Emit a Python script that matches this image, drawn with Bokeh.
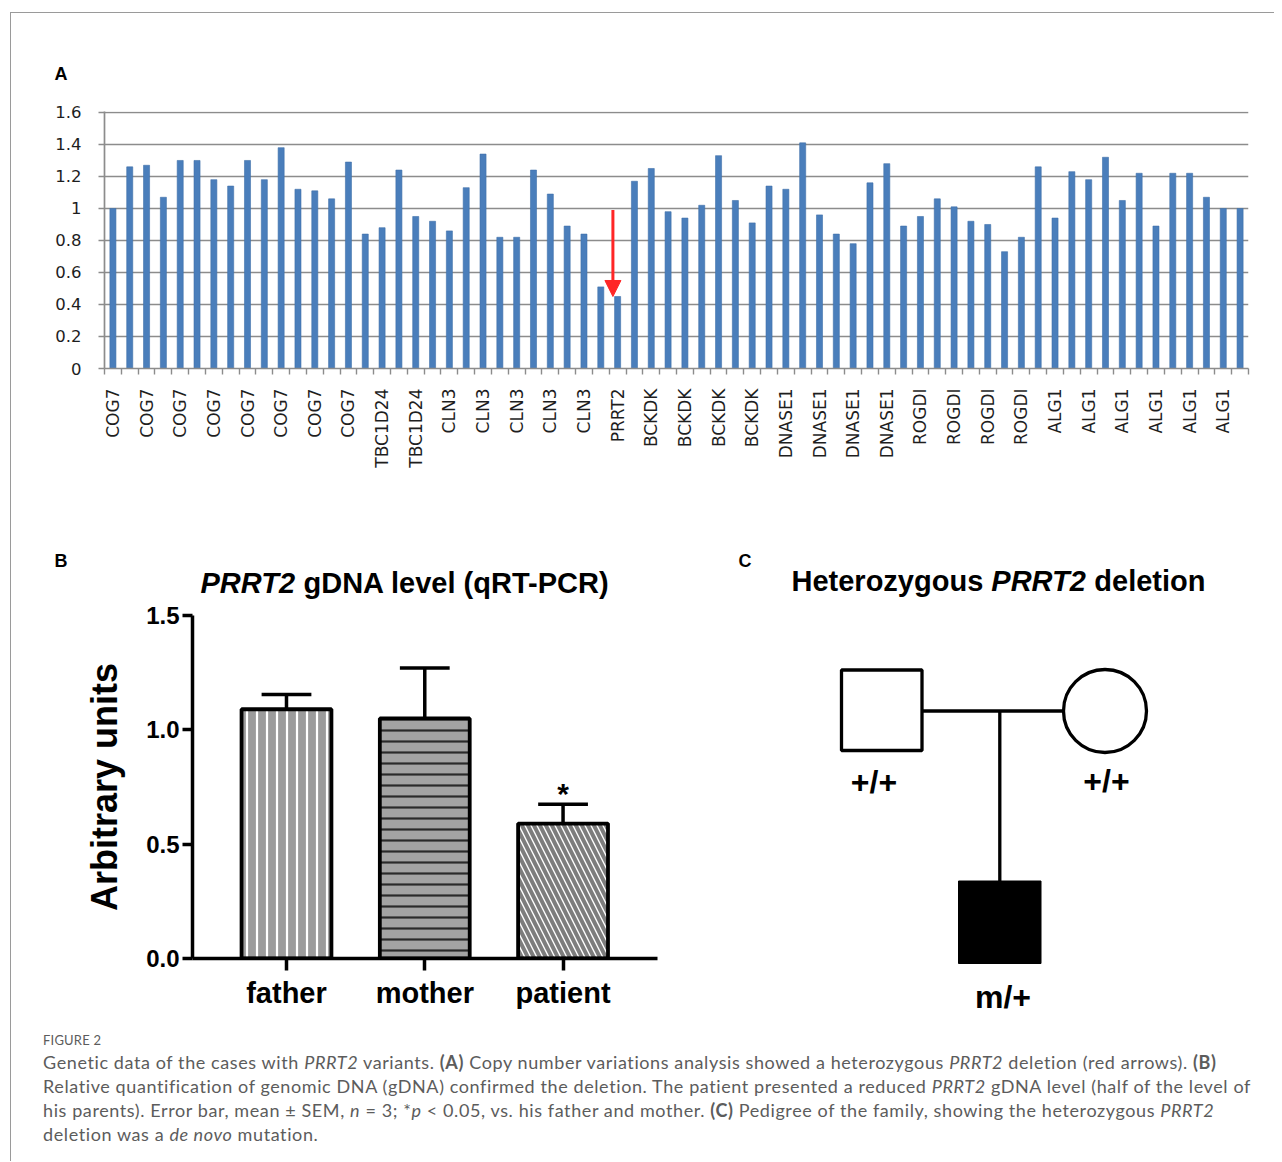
import math
from bokeh.plotting import figure
from bokeh.models import (Range1d, FixedTicker, Arrow, NormalHead, Div,
                          PrintfTickFormatter)
from bokeh.layouts import column, row
from bokeh.core.properties import value
from bokeh.embed import file_html
from bokeh.resources import INLINE

# ---------------- data: panel A (copy number ratios) ----------------
cnv_values = [1.00, 1.26, 1.27, 1.07, 1.30, 1.30, 1.18, 1.14, 1.30, 1.18,
              1.38, 1.12, 1.11, 1.06, 1.29, 0.84, 0.88, 1.24, 0.95, 0.92,
              0.86, 1.13, 1.34, 0.82, 0.82, 1.24, 1.09, 0.89, 0.84, 0.51,
              0.45, 1.17, 1.25, 0.98, 0.94, 1.02, 1.33, 1.05, 0.91, 1.14,
              1.12, 1.41, 0.96, 0.84, 0.78, 1.16, 1.28, 0.89, 0.95, 1.06,
              1.01, 0.92, 0.90, 0.73, 0.82, 1.26, 0.94, 1.23, 1.18, 1.32,
              1.05, 1.22, 0.89, 1.22, 1.22, 1.07, 1.00, 1.00]
cnv_tick_labels = (["COG7"] * 8 + ["TBC1D24"] * 2 + ["CLN3"] * 5 + ["PRRT2"] +
                   ["BCKDK"] * 4 + ["DNASE1"] * 4 + ["ROGDI"] * 4 + ["ALG1"] * 6)
cnv_y_ticks = [0, 0.2, 0.4, 0.6, 0.8, 1.0, 1.2, 1.4, 1.6]
cnv_y_tick_labels = ["0", "0.2", "0.4", "0.6", "0.8", "1", "1.2", "1.4", "1.6"]

# ---------------- data: panel B (qRT-PCR) ----------------
groups = ["father", "mother", "patient"]
gdna_mean = [1.09, 1.05, 0.59]
gdna_sem = [0.065, 0.22, 0.085]
b_y_ticks = [0.0, 0.5, 1.0, 1.5]

# ---------------- styling constants ----------------
BLUE = "#4a7ebb"
GRAYLINE = "#8c8c8c"
RED = "#ff2626"
FONT = "Liberation Sans"


def text_fig(width, height):
    """A plain figure whose data units are pixels from its top-left corner."""
    f = figure(width=width, height=height, x_range=Range1d(0, width),
               y_range=Range1d(height, 0), output_backend="svg", toolbar_location=None,
               min_border=0, title=None, x_axis_type=None, y_axis_type=None)
    f.outline_line_color = None
    f.grid.visible = False
    return f


def put_text(f, x, y, txt, size, style="bold", align="left"):
    f.text(x=[x], y=[y], text=[txt], text_align=align, text_baseline="middle",
           text_font=value(FONT), text_font_style=style, text_font_size=size,
           text_color="black")


# ================= Panel A =================
headA = text_fig(1263, 85)
put_text(headA, 43, 60, "A", "18px")

n = len(cnv_values)
xs = list(range(1, n + 1))
figA = figure(width=1263, height=435, x_range=Range1d(0.5, n + 0.5),
              y_range=Range1d(0, 1.606), output_backend="svg", toolbar_location=None,
              min_border_left=93, min_border_right=26, min_border_top=13,
              min_border_bottom=165, title=None)
figA.outline_line_color = None
figA.xgrid.visible = False
figA.ygrid.ticker = FixedTicker(ticks=cnv_y_ticks)
figA.ygrid.grid_line_color = GRAYLINE
figA.ygrid.grid_line_width = 1.7

figA.vbar(x=xs, top=cnv_values, width=0.36, fill_color=BLUE,
          line_color="#3f70aa", line_width=0.6)

yA = figA.yaxis[0]
yA.ticker = FixedTicker(ticks=cnv_y_ticks)
yA.major_label_overrides = {t: s for t, s in zip(cnv_y_ticks, cnv_y_tick_labels)}
yA.axis_line_color = GRAYLINE
yA.axis_line_width = 1.7
yA.major_tick_line_color = GRAYLINE
yA.major_tick_line_width = 1.6
yA.major_tick_out = 6
yA.major_tick_in = 0
yA.minor_tick_line_color = None
yA.major_label_text_font = "DejaVu Sans"
yA.major_label_text_font_size = "16.5px"
yA.major_label_text_color = "#1e1e1e"
yA.major_label_standoff = 17

label_pos = xs[0::2][:len(cnv_tick_labels)]
boundaries = [i + 0.5 for i in range(0, n + 1)]
xA = figA.xaxis[0]
xA.ticker = FixedTicker(ticks=label_pos, minor_ticks=boundaries)
xA.major_label_overrides = {p: s for p, s in zip(label_pos, cnv_tick_labels)}
xA.major_label_orientation = math.pi / 2
xA.axis_line_color = GRAYLINE
xA.axis_line_width = 1.7
xA.major_tick_line_color = None
xA.major_tick_out = 0
xA.major_tick_in = 0
xA.minor_tick_line_color = GRAYLINE
xA.minor_tick_line_width = 1.4
xA.minor_tick_out = 6
xA.minor_tick_in = 0
xA.major_label_text_font = "DejaVu Sans"
xA.major_label_text_font_size = "17px"
xA.major_label_text_color = "#1e1e1e"
xA.major_label_standoff = 14

# red arrow marking the PRRT2 deletion
prrt2_idx = [i + 1 for i, v in enumerate(cnv_values) if v < 0.6]
arrow_x = sum(prrt2_idx) / len(prrt2_idx) + 0.22
figA.add_layout(Arrow(end=NormalHead(size=16, fill_color=RED, line_color=RED, line_width=1),
                      x_start=arrow_x, y_start=0.99, x_end=arrow_x, y_end=0.45,
                      line_color=RED, line_width=3))

# ================= Panel B =================
headB = text_fig(690, 70)
put_text(headB, 43, 27, "B", "18px")
put_text(headB, 189, 49, "PRRT2", "29px", style="bold italic")
put_text(headB, 292, 49, "gDNA level (qRT-PCR)", "29px")

bx = [1, 2, 3]
figB = figure(width=690, height=422, x_range=Range1d(0.3203, 3.683),
              y_range=Range1d(0, 1.5), output_backend="svg", toolbar_location=None,
              min_border_left=181, min_border_right=44, min_border_top=12,
              min_border_bottom=67, title=None)
figB.outline_line_color = None
figB.grid.visible = False

err_top = [m + s for m, s in zip(gdna_mean, gdna_sem)]
cap = 0.18
figB.segment(x0=bx, y0=gdna_mean, x1=bx, y1=err_top, line_color="black", line_width=3.5)
figB.segment(x0=[x - cap for x in bx], y0=err_top, x1=[x + cap for x in bx], y1=err_top,
             line_color="black", line_width=3.5)

bar_styles = [
    dict(fill_color="#9b9b9b", hatch_pattern="|", hatch_color="white",
         hatch_weight=2.2, hatch_scale=10),
    dict(fill_color="#a3a3a3", hatch_pattern="-", hatch_color="#2a2a2a",
         hatch_weight=2.2, hatch_scale=11),
    dict(fill_color="white", hatch_pattern="\\", hatch_color="#7d7d7d",
         hatch_weight=4, hatch_scale=12),
]
for i in range(len(bx)):
    figB.vbar(x=[bx[i]], top=[gdna_mean[i]], width=0.65, line_color="black",
              line_width=3.8, **bar_styles[i])

figB.text(x=[bx[2]], y=[err_top[2]], text=["*"], text_align="center",
          text_baseline="middle", y_offset=-11, text_font=value(FONT),
          text_font_style="bold", text_font_size="30px", text_color="black")

yB = figB.yaxis[0]
yB.ticker = FixedTicker(ticks=b_y_ticks)
yB.formatter = PrintfTickFormatter(format="%.1f")
yB.axis_line_width = 3.5
yB.major_tick_line_width = 3.5
yB.major_tick_out = 10
yB.major_tick_in = 0
yB.minor_tick_line_color = None
yB.major_label_text_font = FONT
yB.major_label_text_font_style = "bold"
yB.major_label_text_font_size = "24px"
yB.major_label_text_color = "black"
yB.major_label_standoff = 3
yB.axis_label = "Arbitrary units"
yB.axis_label_text_font = FONT
yB.axis_label_text_font_style = "bold"
yB.axis_label_text_font_size = "36px"
yB.axis_label_text_color = "black"
yB.axis_label_standoff = 18

xB = figB.xaxis[0]
xB.ticker = FixedTicker(ticks=bx)
xB.major_label_overrides = {x: g for x, g in zip(bx, groups)}
xB.axis_line_width = 3.5
xB.major_tick_line_width = 3.5
xB.major_tick_out = 12
xB.major_tick_in = 0
xB.minor_tick_line_color = None
xB.major_label_text_font = FONT
xB.major_label_text_font_style = "bold"
xB.major_label_text_font_size = "29px"
xB.major_label_text_color = "black"
xB.major_label_standoff = 6

# ================= Panel C (pedigree) =================
figC = figure(width=573, height=492, x_range=Range1d(701, 1274), y_range=Range1d(1025, 533),
              output_backend="svg", toolbar_location=None, min_border=0, title=None,
              x_axis_type=None, y_axis_type=None)
figC.outline_line_color = None
figC.grid.visible = False

# pedigree layout (diagram positions, page pixels)
father_box = dict(left=841, right=921.5, top=669.5, bottom=750)
mother_circle = dict(x=1104.5, y=710.5, r=41.5)
child_box = dict(left=958, right=1040.5, top=880.5, bottom=963)
mating_y = 710.5
descent_x = 999.3

figC.segment(x0=[father_box["right"]], y0=[mating_y], x1=[mother_circle["x"] - mother_circle["r"]],
             y1=[mating_y], line_color="black", line_width=3.3)
figC.segment(x0=[descent_x], y0=[mating_y], x1=[descent_x], y1=[child_box["top"]],
             line_color="black", line_width=3.3)
figC.quad(left=[father_box["left"]], right=[father_box["right"]], top=[father_box["top"]],
          bottom=[father_box["bottom"]], fill_color="white", line_color="black", line_width=3.3)
figC.circle(x=[mother_circle["x"]], y=[mother_circle["y"]], radius=mother_circle["r"],
            fill_color="white", line_color="black", line_width=3.3)
figC.quad(left=[child_box["left"]], right=[child_box["right"]], top=[child_box["top"]],
          bottom=[child_box["bottom"]], fill_color="black", line_color="black", line_width=1)

figC.text(x=[873.5, 1106, 1002.5], y=[781.5, 780, 996.5], text=["+/+", "+/+", "m/+"],
          text_align="center", text_baseline="middle", text_font=value(FONT),
          text_font_style="bold", text_font_size="32px", text_color="black")

put_text(figC, 738, 560, "C", "18px")
put_text(figC, 791, 580, "Heterozygous", "29px")
put_text(figC, 990.8, 580, "PRRT2", "29px", style="bold italic")
put_text(figC, 1093.8, 580, "deletion", "29px")

# ================= Caption =================
caption_html = """
<div style="font-family: Lato, 'Open Sans', sans-serif; color:#5c5c5c; padding-left:32px; padding-top:5px;">
<div style="font-size:13px; line-height:20px; letter-spacing:0.2px;">FIGURE 2</div>
<div style="font-size:18px; line-height:24px; letter-spacing:0.6px; white-space:nowrap;">
Genetic data of the cases with <i>PRRT2</i> variants. <b>(A)</b> Copy number variations analysis showed a heterozygous <i>PRRT2</i> deletion (red arrows). <b>(B)</b><br>
Relative quantification of genomic DNA (gDNA) confirmed the deletion. The patient presented a reduced <i>PRRT2</i> gDNA level (half of the level of<br>
his parents). Error bar, mean &plusmn; SEM, <i>n</i> = 3; *<i>p</i> &lt; 0.05, vs. his father and mother. <b>(C)</b> Pedigree of the family, showing the heterozygous <i>PRRT2</i><br>
deletion was a <i>de novo</i> mutation.
</div></div>
"""
caption = Div(text=caption_html, width=1263, height=129, margin=0)

# ================= Layout with frame lines =================
line_color = "#9a9a9a"


def blank(w, h, color=None):
    st = {"background-color": color} if color else {}
    return Div(text="", width=w, height=h, styles=st, margin=0)


panelA = column(column(headA), figA)
panelB = column(column(headB), figB)
panelC = column(figC)
content = column(panelA, row(panelB, panelC), caption)
root = column(
    blank(1274, 12),
    row(blank(10, 1), blank(1264, 1, line_color)),
    row(blank(10, 1148), blank(1, 1148, line_color), content),
)

open("out.html", "w").write(file_html(root, INLINE))
